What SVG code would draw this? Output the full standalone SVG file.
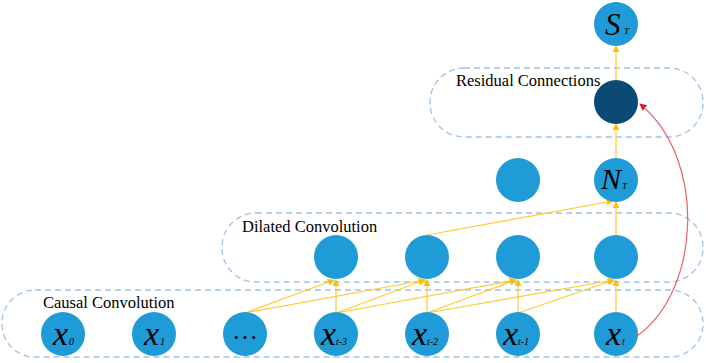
<svg xmlns="http://www.w3.org/2000/svg" width="706" height="363" viewBox="0 0 706 363">
<style>
.box{fill:none;stroke:#9DC3E6;stroke-width:1.3;stroke-dasharray:6 4}
.n{fill:#1F9BD7}
.d{fill:#0B4A75}
.lbl{font-family:"Liberation Serif","Times New Roman",serif;font-size:16.5px;fill:#000}
.v{font-family:"Liberation Serif","Times New Roman",serif;font-style:italic;fill:#000}
.y{stroke:#FFCA2E;stroke-width:1.2;fill:none;marker-end:url(#ya)}
</style>
<defs>
<marker id="ya" viewBox="0 0 10 10" refX="9" refY="5" markerWidth="7" markerHeight="7" markerUnits="userSpaceOnUse" orient="auto"><path d="M0,0L10,5L0,10z" fill="#FFC000"/></marker>
<marker id="ra" viewBox="0 0 10 10" refX="9" refY="5" markerWidth="7" markerHeight="7" markerUnits="userSpaceOnUse" orient="auto"><path d="M0,0L10,5L0,10z" fill="#E8141E"/></marker>
</defs>
<g id="boxes">
<rect class="box" x="2" y="290" width="701" height="67" rx="33"/>
<rect class="box" x="222" y="213" width="481" height="69" rx="34"/>
<rect class="box" x="430" y="68" width="273" height="69" rx="34"/>
<text class="lbl" x="43" y="308">Causal Convolution</text>
<text class="lbl" x="242" y="232">Dilated Convolution</text>
<text class="lbl" x="456" y="86">Residual Connections</text>
</g>
<g id="connectors">
<line class="y" x1="245" y1="313" x2="334" y2="280"/>
<line class="y" x1="245" y1="313" x2="425" y2="280"/>
<line class="y" x1="336" y1="313" x2="336" y2="280"/>
<line class="y" x1="336" y1="313" x2="425" y2="280"/>
<line class="y" x1="336" y1="313" x2="516" y2="280"/>
<line class="y" x1="427" y1="313" x2="427" y2="280"/>
<line class="y" x1="427" y1="313" x2="516" y2="280"/>
<line class="y" x1="427" y1="313" x2="614" y2="280"/>
<line class="y" x1="518" y1="313" x2="518" y2="280"/>
<line class="y" x1="518" y1="313" x2="614" y2="280"/>
<line class="y" x1="616" y1="313" x2="616" y2="280"/>
<line class="y" x1="427" y1="235" x2="613" y2="201"/>
<line class="y" x1="616" y1="235" x2="616" y2="202"/>
<line class="y" x1="616" y1="158" x2="616" y2="124"/>
<line class="y" x1="616" y1="80" x2="616" y2="46"/>
<path d="M637,336 C700,292 708,160 640,104" fill="none" stroke="#F0606A" stroke-width="1.2" marker-end="url(#ra)"/>
</g>
<g id="x0"><circle class="n" cx="63" cy="334" r="22"/><text class="v" x="53" y="345" font-size="34">x</text><text class="v" x="69" y="345" font-size="10">0</text></g>
<g id="x1"><circle class="n" cx="154" cy="334" r="22"/><text class="v" x="144" y="345" font-size="34">x</text><text class="v" x="160" y="345" font-size="10">1</text></g>
<g id="xdots"><circle class="n" cx="245" cy="334" r="22"/><text x="245" y="339" font-family="Liberation Serif,Times New Roman,serif" font-size="26" text-anchor="middle">…</text></g>
<g id="xt3"><circle class="n" cx="336" cy="334" r="22"/><text class="v" x="321" y="345" font-size="34">x</text><text class="v" x="336" y="345" font-size="10">t-3</text></g>
<g id="xt2"><circle class="n" cx="427" cy="334" r="22"/><text class="v" x="412" y="345" font-size="34">x</text><text class="v" x="427" y="345" font-size="10">t-2</text></g>
<g id="xt1"><circle class="n" cx="518" cy="334" r="22"/><text class="v" x="503" y="345" font-size="34">x</text><text class="v" x="518" y="345" font-size="10">t-1</text></g>
<g id="xt"><circle class="n" cx="616" cy="334" r="22"/><text class="v" x="606" y="345" font-size="34">x</text><text class="v" x="622" y="345" font-size="10">t</text></g>
<g id="d1"><circle class="n" cx="336" cy="257" r="22"/></g>
<g id="d2"><circle class="n" cx="427" cy="257" r="22"/></g>
<g id="d3"><circle class="n" cx="518" cy="257" r="22"/></g>
<g id="d4"><circle class="n" cx="616" cy="257" r="22"/></g>
<g id="h1"><circle class="n" cx="518" cy="180" r="22"/></g>
<g id="nt"><circle class="n" cx="616" cy="180" r="22"/><text class="v" x="601" y="189" font-size="30">N</text><text class="v" x="622" y="189" font-size="9">T</text></g>
<g id="res"><circle class="d" cx="616" cy="102" r="22"/></g>
<g id="st"><circle class="n" cx="616" cy="24" r="22"/><text class="v" x="605" y="35" font-size="31">S</text><text class="v" x="624" y="34" font-size="9">T</text></g>
</svg>
